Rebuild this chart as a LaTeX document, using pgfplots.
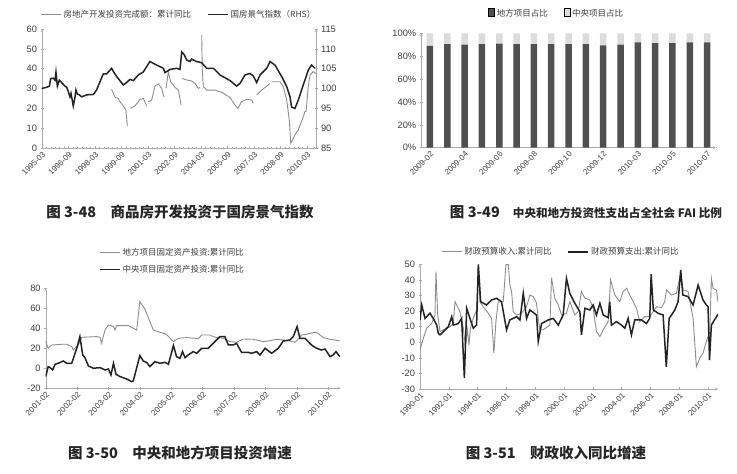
\documentclass[border=0pt]{standalone}
\usepackage{pgfplots}
\pgfplotsset{compat=1.18}
\usepackage{fontspec}
\setmainfont{Liberation Sans}
\newfontfamily\cjk{Noto Sans CJK SC}
\definecolor{lgray}{RGB}{140,140,140}
\definecolor{dline}{RGB}{35,35,35}
\definecolor{axg}{RGB}{170,170,170}
\definecolor{bard}{RGB}{80,80,80}
\definecolor{barl}{RGB}{220,220,220}
\definecolor{txt}{RGB}{60,60,60}
\pgfplotsset{
 base/.style={scale only axis, anchor=south west,
  axis line style={axg,-}, tick style={axg,thin},
  major tick length=3pt, minor tick length=1.5pt, tick align=outside,
  tick label style={font=\fontsize{9.3}{10}\selectfont, text=txt},
  /pgf/number format/assume math mode=true,
  xticklabel style={rotate=45, anchor=north east, font=\fontsize{8}{9}\selectfont, inner sep=1pt},
  legend style={draw=none, fill=none, font=\cjk\fontsize{8.5}{10}\selectfont, text=txt,
     /tikz/every even column/.append style={column sep=14pt}},
  legend cell align=left,
 },
 gline/.style={lgray, line width=0.9pt},
 bline/.style={dline, line width=1.5pt},
 lineleg/.style={legend image code/.code={\draw[##1] (0pt,0pt) -- (20pt,0pt);}},
 boxleg/.style={legend image code/.code={\fill[##1] (0pt,-2.6pt) rectangle (5.2pt,2.6pt);}},
}
\begin{document}
\begin{tikzpicture}
\path[use as bounding box] (0,0) rectangle (737pt,474pt);
% ---------------- TL ----------------
\begin{axis}[base, lineleg, at={(42pt,326pt)}, width=274pt, height=119pt,
  xmin=1995.17, xmax=2010.68, ymin=0, ymax=60, ytick={0,10,...,60},
  axis x line=bottom, axis y line=left,
  xtick={1995.17,1996.67,1998.17,1999.67,2001.17,2002.67,2004.17,2005.67,2007.17,2008.67,2010.17},
  xticklabels={1995-03,1996-09,1998-03,1999-09,2001-03,2002-09,2004-03,2005-09,2007-03,2008-09,2010-03},
  minor x tick num=5, unbounded coords=jump,
  legend columns=2, legend style={at={(0.5,1.12)}, anchor=center}]
\addplot[gline] coordinates {
(1999.11,29.6)(1999.30,25.6)(1999.49,25.0)(1999.58,23.3)(1999.77,21.2)(1999.92,19.2)(2000.00,11.1)(2000.10,nan)
(2000.19,20.0)(2000.43,21.2)(2000.72,24.5)(2000.91,25.0)(2001.09,21.2)(2001.14,nan)
(2001.19,23.3)(2001.38,24.2)(2001.57,31.3)(2001.76,32.3)(2001.94,30.1)(2002.08,25.6)(2002.12,nan)
(2002.19,30.1)(2002.32,38.5)(2002.45,33.4)(2002.70,30.6)(2002.89,29.2)(2003.04,21.7)(2003.06,nan)
(2003.09,35.1)(2003.36,34.3)(2003.64,33.8)(2003.83,32.6)(2004.02,30.1)(2004.11,30.5)(2004.16,nan)
(2004.21,57.0)(2004.24,40.0)(2004.30,31.0)(2004.49,29.2)(2004.96,29.2)(2005.36,28.0)(2005.81,25.5)(2006.09,21.7)(2006.26,20.0)(2006.47,23.4)(2006.75,24.5)(2007.04,24.2)(2007.13,22.5)(2007.22,nan)
(2007.32,26.7)(2007.60,29.2)(2007.98,31.8)(2008.07,32.6)(2008.14,nan)
(2008.20,33.4)(2008.36,33.4)(2008.64,33.4)(2008.83,30.9)(2009.02,24.2)(2009.17,14.1)(2009.25,2.4)(2009.49,6.6)(2009.68,9.1)(2009.96,15.8)(2010.05,18.3)(2010.12,18.5)(2010.24,30.9)(2010.34,36.8)(2010.52,38.5)(2010.66,37.5)
};
\addlegendentry{房地产开发投资完成额：累计同比}
\addlegendimage{bline}
\addlegendentry{国房景气指数（RHS）}
\end{axis}
\begin{axis}[base, at={(42pt,326pt)}, width=274pt, height=119pt,
  xmin=1995.17, xmax=2010.68, ymin=85, ymax=115, ytick={85,90,...,115},
  axis y line=right, axis x line=none]
\addplot[bline] coordinates {
(1995.15,100.0)(1995.43,100.3)(1995.59,100.6)(1995.66,102.5)(1995.81,102.6)(1995.91,102.1)(1995.96,104.1)(1996.04,100.6)(1996.15,102.1)(1996.28,101.5)(1996.47,100.6)(1996.57,100.3)(1996.66,99.2)(1996.75,97.9)(1996.81,98.8)(1996.94,95.6)(1997.04,97.9)(1997.09,99.6)(1997.17,98.6)(1997.28,98.4)(1997.42,97.9)(1997.70,98.4)(1998.08,98.5)(1998.26,99.6)(1998.45,101.7)(1998.64,103.7)(1998.83,103.7)(1999.11,105.1)(1999.21,104.3)(1999.40,103.0)(1999.77,100.9)(1999.96,101.5)(2000.15,102.3)(2000.34,102.0)(2000.62,103.4)(2000.91,104.2)(2001.09,105.5)(2001.28,106.8)(2001.66,105.9)(2002.04,105.1)(2002.13,104.0)(2002.42,104.8)(2002.79,105.1)(2002.98,104.8)(2003.08,109.2)(2003.21,108.6)(2003.36,107.2)(2003.55,106.8)(2003.64,107.4)(2003.92,106.8)(2004.21,106.5)(2004.49,105.1)(2004.87,105.1)(2005.25,103.4)(2005.81,102.0)(2006.19,100.6)(2006.38,101.3)(2006.66,103.4)(2006.94,103.8)(2007.13,103.2)(2007.32,101.5)(2007.51,103.4)(2007.89,105.1)(2008.08,106.8)(2008.36,105.9)(2008.74,103.0)(2009.02,100.5)(2009.21,97.9)(2009.30,95.3)(2009.49,95.0)(2009.68,97.1)(2009.96,100.9)(2010.25,104.7)(2010.43,105.9)(2010.62,105.1)
};
\end{axis}
% ---------------- TR ----------------
\begin{axis}[base, boxleg, at={(421.3pt,326.3pt)}, width=294.5pt, height=114.4pt,
  ybar stacked, bar width=6.5pt, xmin=-0.5, xmax=16.5, ymin=0, ymax=100,
  ytick={0,20,...,100}, yticklabel={\pgfmathprintnumber{\tick}\%},
  axis x line=bottom, axis y line=left,
  xtick={0,2,...,16},
  xticklabels={2009-02,2009-04,2009-06,2009-08,2009-10,2009-12,2010-03,2010-05,2010-07},
  major x tick style={draw=none}, minor xtick={-0.5,0.5,...,16.5},
  legend columns=2, legend style={at={(0.46,1.17)}, anchor=center}]
\addplot[fill=bard, draw=none] coordinates {(0,89)(1,90.5)(2,90)(3,90.5)(4,91)(5,90.5)(6,90.5)(7,90.5)(8,90.5)(9,90.5)(10,89.5)(11,90)(12,92)(13,91.5)(14,91.5)(15,92)(16,92)};
\addlegendentry{地方项目占比}
\addplot[fill=barl, draw=none] coordinates {(0,11)(1,9.5)(2,10)(3,9.5)(4,9)(5,9.5)(6,9.5)(7,9.5)(8,9.5)(9,9.5)(10,10.5)(11,10)(12,8)(13,8.5)(14,8.5)(15,8)(16,8)};
\addlegendentry{中央项目占比}
\end{axis}
% ---------------- BL ----------------
\begin{axis}[base, lineleg, at={(45.7pt,85.7pt)}, width=295pt, height=100pt,
  xmin=2001.08, xmax=2010.48, ymin=-20, ymax=80, ytick={-20,0,...,80},
  axis x line=bottom, axis y line=left,
  xtick={2001.08,2002.08,2003.08,2004.08,2005.08,2006.08,2007.08,2008.08,2009.08,2010.08},
  xticklabels={2001-02,2002-02,2003-02,2004-02,2005-02,2006-02,2007-02,2008-02,2009-02,2010-02},
  minor x tick num=5,
  legend columns=1, legend style={at={(0.17,1.27)}, anchor=west, row sep=4pt}]
\addplot[gline] coordinates {
(2001.08,27.3)(2001.16,20)(2001.27,23.3)(2001.59,24)(2001.75,24)(2001.91,21.7)(2001.96,18.3)(2002.12,23.3)(2002.23,31)(2002.70,31.7)(2002.81,31)(2002.86,25)(2002.97,38.3)(2003.08,43.3)(2003.24,41.7)(2003.29,38.3)(2003.34,42.7)(2003.71,42.7)(2003.87,40)(2003.98,38.3)(2004.08,66.7)(2004.24,59.3)(2004.40,46.7)(2004.51,38.3)(2004.72,36)(2004.93,34)(2005.09,28.3)(2005.15,26.7)(2005.31,30)(2005.57,30.7)(2005.84,30)(2005.94,29.3)(2006.05,33.3)(2006.31,33.3)(2006.42,31.7)(2006.53,30.7)(2006.74,30)(2006.95,26.7)(2007.16,26)(2007.38,29.3)(2007.69,29)(2008.01,26.7)(2008.17,27.3)(2008.44,29)(2008.65,28.3)(2008.86,27.3)(2009.02,26)(2009.13,29.3)(2009.23,33.3)(2009.39,34)(2009.66,36)(2009.76,35)(2009.92,30.7)(2010.14,29)(2010.29,28.3)(2010.45,27.3)
};
\addlegendentry{地方项目固定资产投资:累计同比}
\addplot[bline] coordinates {
(2001.08,-8.3)(2001.16,1.7)(2001.22,0.7)(2001.30,-1.7)(2001.38,4)(2001.48,5)(2001.64,7.3)(2001.75,5)(2001.91,5)(2002.07,20)(2002.17,31.7)(2002.26,13.3)(2002.33,10.7)(2002.44,2.3)(2002.60,0)(2002.81,0.7)(2002.97,-1.7)(2003.08,-0.7)(2003.16,-6.7)(2003.24,5)(2003.32,-6)(2003.45,-8.3)(2003.66,-10.7)(2003.82,-13.3)(2003.87,-12.7)(2004.08,12.7)(2004.19,7.3)(2004.30,5.7)(2004.40,1.7)(2004.56,6.7)(2004.72,5)(2004.88,6)(2004.99,4)(2005.15,22.7)(2005.25,11.7)(2005.36,10)(2005.44,16.7)(2005.52,10.7)(2005.62,13.3)(2005.78,16.7)(2005.89,15)(2006.05,20)(2006.26,20)(2006.47,26.7)(2006.63,31.7)(2006.79,31.7)(2006.90,23.3)(2007.06,23.3)(2007.16,25)(2007.32,16)(2007.53,16)(2007.64,15)(2007.80,16.7)(2007.91,13.3)(2008.07,20)(2008.28,15)(2008.49,20)(2008.65,27.3)(2008.86,28.3)(2008.97,31.7)(2009.09,41.7)(2009.18,30)(2009.34,30)(2009.55,23.3)(2009.71,20)(2009.87,18.3)(2009.98,19.3)(2010.14,11.7)(2010.24,13.3)(2010.33,16.7)(2010.45,11.7)
};
\addlegendentry{中央项目固定资产投资:累计同比}
\end{axis}
% ---------------- BR ----------------
\begin{axis}[base, lineleg, at={(420pt,85pt)}, width=298pt, height=124.7pt,
  xmin=1990, xmax=2010.69, ymin=-30, ymax=50, ytick={-30,-20,...,50},
  axis x line=bottom, axis y line=left,
  xtick={1990,1992,...,2010},
  xticklabels={1990-01,1992-01,1994-01,1996-01,1998-01,2000-01,2002-01,2004-01,2006-01,2008-01,2010-01},
  minor x tick num=7,
  legend columns=2, legend style={at={(0.473,1.1)}, anchor=center}]
\addplot[gline] coordinates {
(1990.00,-5)(1990.23,2.5)(1990.46,9)(1990.81,12)(1991.04,17.5)(1991.11,45.3)(1991.23,17.5)(1991.39,6.8)(1991.62,8)(1992.08,10)(1992.31,12)(1992.43,26)(1992.54,24)(1992.77,19.6)(1993.01,9)(1993.15,-3)(1993.30,8)(1993.40,-2)(1993.50,9)(1993.70,15.3)(1993.93,20.7)(1994.05,49)(1994.16,26)(1994.39,22.8)(1994.74,18.6)(1994.97,15.3)(1995.13,-7)(1995.27,13)(1995.43,26)(1995.78,26)(1995.97,50)(1996.13,50)(1996.24,36.7)(1996.36,32.5)(1996.47,19.6)(1996.71,17.5)(1997.05,18.6)(1997.40,22.8)(1997.63,30.3)(1997.86,29.3)(1998.09,25)(1998.21,15.3)(1998.32,8)(1998.55,8)(1999.02,11)(1999.13,41.4)(1999.36,28.2)(1999.60,24)(1999.83,17.5)(2000.17,18.6)(2000.40,26)(2000.75,17.5)(2000.98,19.6)(2001.21,32.5)(2001.45,28.2)(2001.79,27.1)(2002.02,21.8)(2002.25,6.8)(2002.49,3.6)(2002.72,8)(2003.06,13.2)(2003.23,40)(2003.53,30.3)(2003.87,26)(2004.10,32.5)(2004.34,34.6)(2004.68,28.2)(2005.03,21.8)(2005.26,13.2)(2005.61,16.4)(2005.95,16.4)(2006.42,22.8)(2006.76,22.2)(2006.99,26)(2007.11,33.5)(2007.46,30.3)(2007.80,31.4)(2008.10,44)(2008.27,33.5)(2008.61,32.5)(2008.96,15.3)(2009.19,-15.7)(2009.42,-10.3)(2009.65,-7)(2009.88,0.4)(2010.12,6.8)(2010.23,41)(2010.35,34.6)(2010.58,33.5)(2010.69,26)
};
\addlegendentry{财政预算收入:累计同比}
\addplot[bline] coordinates {
(1990.00,14.3)(1990.12,23.9)(1990.35,15.3)(1990.69,18.6)(1990.92,15.3)(1991.16,11)(1991.27,5.7)(1991.39,4.7)(1991.62,6.8)(1991.97,10)(1992.20,16.4)(1992.31,11)(1992.66,12)(1992.89,15.3)(1993.08,-23)(1993.24,21.8)(1993.47,15.3)(1993.70,9)(1993.93,11)(1994.05,50)(1994.21,26)(1994.62,23.9)(1994.97,27.1)(1995.32,28.2)(1995.66,26)(1996.01,7.9)(1996.24,14.3)(1996.71,16.4)(1996.94,14.3)(1997.17,31.4)(1997.40,15.3)(1997.63,20.7)(1998.09,17.5)(1998.21,0.4)(1998.44,12)(1998.90,14.3)(1999.25,15.3)(1999.60,11)(1999.94,17.5)(2000.17,41)(2000.40,31.4)(2000.75,25)(2001.10,19.6)(2001.21,4.7)(2001.45,21.8)(2001.79,20.7)(2002.02,23.9)(2002.25,17.5)(2002.49,25)(2002.72,17.5)(2003.06,15.8)(2003.17,26)(2003.29,11)(2003.64,13.2)(2003.99,11)(2004.22,9)(2004.45,15.3)(2004.68,4.7)(2004.91,14.3)(2005.38,14.3)(2005.72,12)(2005.95,15.3)(2006.05,43.6)(2006.20,20.7)(2006.53,18.6)(2006.88,17.5)(2007.10,-15.7)(2007.30,15.3)(2007.69,20.7)(2007.92,26)(2008.10,46.4)(2008.25,30.3)(2008.61,29.3)(2008.96,23.9)(2009.31,36.7)(2009.65,27.1)(2009.88,23.9)(2010.00,22.8)(2010.10,-11.4)(2010.23,11)(2010.69,18)
};
\addlegendentry{财政预算支出:累计同比}
\end{axis}
% ---------------- captions ----------------
\begin{scope}[every node/.style={font=\cjk\bfseries\fontsize{14.5}{16}\selectfont, text=black!85, inner sep=0pt}]
\node at (180pt,262pt) {图 3-48\hspace{1em}商品房开发投资于国房景气指数};
\node at (586pt,262pt) {图 3-49\hspace{0.9em}{\fontsize{11.6}{14}\selectfont 中央和地方投资性支出占全社会 FAI 比例}};
\node at (180pt,21pt) {图 3-50\hspace{1em}中央和地方项目投资增速};
\node at (556pt,21pt) {图 3-51\hspace{1em}财政收入同比增速};
\end{scope}
\end{tikzpicture}
\end{document}
